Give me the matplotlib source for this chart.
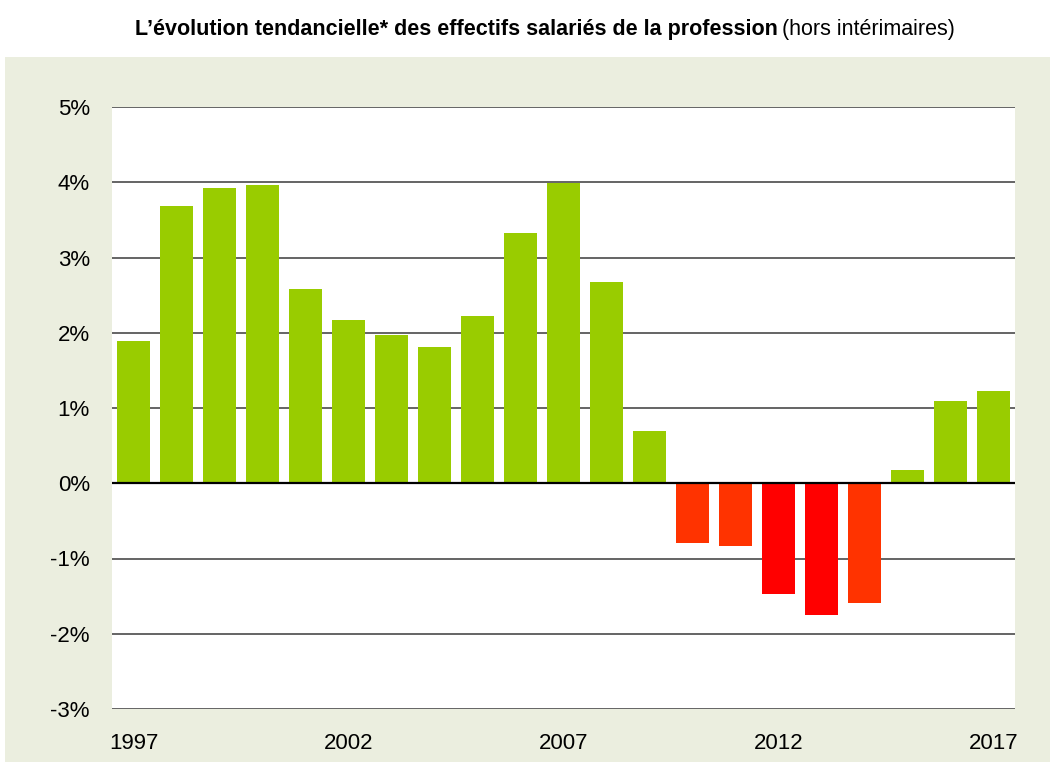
import matplotlib
matplotlib.use("Agg")
import matplotlib.pyplot as plt
from matplotlib import font_manager

# Data
years = list(range(1997, 2018))
values = [1.89, 3.69, 3.92, 3.96, 2.58, 2.17, 1.97, 1.81, 2.22, 3.32, 3.99, 2.68,
          0.69, -0.80, -0.84, -1.47, -1.75, -1.59, 0.17, 1.09, 1.22]
bar_colors = ["#99cc00"] * 13 + ["#ff3300", "#ff3300", "#ff0000", "#ff0000", "#ff3300"] + ["#99cc00"] * 3
yticks = [-3, -2, -1, 0, 1, 2, 3, 4, 5]
xtick_years = [1997, 2002, 2007, 2012, 2017]

names = {f.name for f in font_manager.fontManager.ttflist}
FONT = "Liberation Sans Narrow" if "Liberation Sans Narrow" in names else "Liberation Sans"
plt.rcParams["font.family"] = [FONT, "DejaVu Sans"]

W, H = 1055, 762
fig = plt.figure(figsize=(W / 100, H / 100), dpi=100)
fig.patch.set_facecolor("white")

# beige panel behind the plot
bg = fig.add_axes([5 / W, 0, 1045 / W, (H - 57) / H], zorder=0)
bg.set_facecolor("#ebeedf")
bg.set_xticks([])
bg.set_yticks([])
for s in bg.spines.values():
    s.set_visible(False)

ax = fig.add_axes([112 / W, (H - 709) / H, (1015 - 112) / W, (709 - 107) / H], zorder=1)
ax.set_facecolor("white")

ax.bar(years, values, width=0.77, color=bar_colors, edgecolor="none", zorder=3)

ax.set_xlim(1996.5, 2017.5)
ax.set_ylim(-3, 5)
for y in yticks:
    if y == 0:
        ax.axhline(y, color="black", linewidth=1.6, zorder=4)
    else:
        ax.axhline(y, color="#4a4a4a", linewidth=1.2, zorder=1)

ax.set_yticks(yticks)
ax.set_yticklabels([f"{y}%" for y in yticks], fontsize=16)
ax.set_xticks(xtick_years)
ax.set_xticklabels([str(y) for y in xtick_years], fontsize=16)
ax.tick_params(axis="both", length=0)
ax.tick_params(axis="y", pad=16)
ax.tick_params(axis="x", pad=17)
for s in ax.spines.values():
    s.set_visible(False)

fig.text(778 / W, 1 - 29 / H, "L\u2019évolution tendancielle* des effectifs salariés de la profession",
         ha="right", va="center", fontsize=15.5, fontweight="bold")
fig.text(782 / W, 1 - 29 / H, "(hors intérimaires)", ha="left", va="center", fontsize=15.5)

fig.savefig("out.png", dpi=100)
